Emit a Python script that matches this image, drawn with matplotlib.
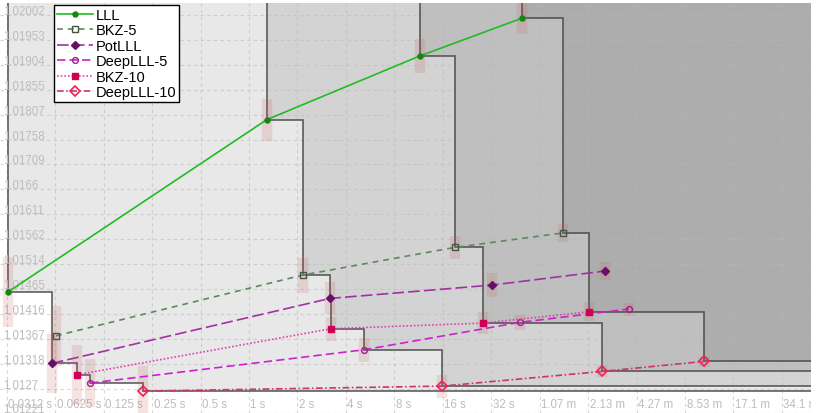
import matplotlib
matplotlib.use("Agg")
import matplotlib.pyplot as plt
from matplotlib.transforms import blended_transform_factory, offset_copy

plt.rcParams['font.family'] = ['Liberation Sans', 'DejaVu Sans']

# running time (s), root Hermite factor and its spread, one entry per lattice size
lll_time = [0.0320, 1.288, 11.50, 49.5]
lll_rhf = [1.014595, 1.017966, 1.019215, 1.019955]
lll_err = [0.000686, 0.000412, 0.000343, 0.000314]

bkz5_time = [0.0633, 2.156, 19.05, 88.9]
bkz5_rhf = [1.013730, 1.014921, 1.015464, 1.015745]
bkz5_err = [0.000588, 0.000343, 0.000226, 0.000176]

pot_time = [0.0595, 3.187, 32.5, 162.9]
pot_rhf = [1.013189, 1.014463, 1.014725, 1.015000]
pot_err = [0.000579, 0.000314, 0.000235, 0.000176]

deep5_time = [0.1029, 5.21, 48.3, 229.6]
deep5_rhf = [1.012803, 1.013457, 1.013994, 1.014255]
deep5_err = [0.000471, 0.000235, 0.000147, 0.000127]

bkz10_time = [0.0854, 3.23, 28.3, 129.6]
bkz10_rhf = [1.012966, 1.013869, 1.013979, 1.014201]
bkz10_err = [0.000588, 0.000235, 0.000216, 0.000186]

deep10_time = [0.2184, 15.89, 156.7, 671.5]
deep10_rhf = [1.012646, 1.012744, 1.013032, 1.013228]
deep10_err = [0.000490, 0.000226, 0.000118, 0.000108]

x_ticks = [2.0 ** n for n in range(-5, 12)]
x_labels = ['0.0312 s', '0.0625 s', '0.125 s', '0.25 s', '0.5 s', '1 s', '2 s',
            '4 s', '8 s', '16 s', '32 s', '1.07 m', '2.13 m', '4.27 m',
            '8.53 m', '17.1 m', '34.1 m']
y_ticks = [1 + k / 2048 for k in range(25, 42)]
y_labels = ['1.01221', '1.0127', '1.01318', '1.01367', '1.01416', '1.01465',
            '1.01514', '1.01562', '1.01611', '1.0166', '1.01709', '1.01758',
            '1.01807', '1.01855', '1.01904', '1.01953', '1.02002']

series = [
    ('LLL', lll_time, lll_rhf, lll_err,
     dict(color='#22bb22', ls='-', marker='o', ms=3.6, mfc='#118811', mec='#118811')),
    ('BKZ-5', bkz5_time, bkz5_rhf, bkz5_err,
     dict(color='#5b8a5b', ls=(0, (3.5, 3)), marker='s', ms=4.4, mfc='none',
          mec='#445544', mew=1.0)),
    ('PotLLL', pot_time, pot_rhf, pot_err,
     dict(color='#a330a3', ls=(0, (7, 2.5)), marker='D', ms=3.8, mfc='#661166',
          mec='#661166')),
    ('DeepLLL-5', deep5_time, deep5_rhf, deep5_err,
     dict(color='#cc22cc', ls=(0, (5, 2.5)), marker='o', ms=4.2, mfc='none',
          mec='#992288', mew=1.0)),
    ('BKZ-10', bkz10_time, bkz10_rhf, bkz10_err,
     dict(color='#dd44aa', ls=(0, (1, 1.2)), marker='s', ms=4.6, mfc='#cc0055',
          mec='#cc0055')),
    ('DeepLLL-10', deep10_time, deep10_rhf, deep10_err,
     dict(color='#cc3377', ls=(0, (4, 1.5, 1, 1.5)), marker='D', ms=4.6, mfc='none',
          mec='#ee2255', mew=1.2)),
]

fig = plt.figure(figsize=(8.2, 4.14), dpi=100)
ax = fig.add_axes([0, 0, 811 / 820, 410 / 414])
ax.set_xscale('log', base=2)
x_min, x_max = 2 ** -5.139, 2 ** 11.6
y_min, y_max = 1 + 25.02 / 2048, 1 + 41.48 / 2048
ax.set_xlim(x_min, x_max)
ax.set_ylim(y_min, y_max)
for s in ax.spines.values():
    s.set_visible(False)
ax.set_xticks([])
ax.set_yticks([])
ax.minorticks_off()

# dominated region of the n-th point of every method, stacked as grey layers
for i in range(4):
    pts = sorted((s[1][i], s[2][i]) for s in series)
    front = []
    for t, v in pts:
        if not front or v < front[-1][1]:
            front.append((t, v))
    xs, ys = [front[0][0]], [y_max]
    for j, (t, v) in enumerate(front):
        if j > 0:
            xs.append(t)
            ys.append(front[j - 1][1])
        xs.append(t)
        ys.append(v)
    xs.append(x_max)
    ys.append(front[-1][1])
    ax.fill(xs + [x_max], ys + [y_max], color='black', alpha=0.09, lw=0, zorder=1)
    ax.plot(xs, ys, color='#444444', lw=1.2, alpha=0.85, zorder=2,
            solid_joinstyle='miter')

# grid
for t in x_ticks:
    ax.axvline(t, color='#b8b8b8', alpha=0.55, lw=0.8, ls=(0, (3, 3)), zorder=1.5)
for v in y_ticks:
    ax.axhline(v, color='#b8b8b8', alpha=0.55, lw=0.8, ls=(0, (3, 3)), zorder=1.5)

# tick labels drawn inside the plot area
trans_y = blended_transform_factory(ax.transAxes, ax.transData)
for v, lab in zip(y_ticks, y_labels):
    ax.text(3 / 811, v, lab, transform=offset_copy(trans_y, fig=fig, y=1, units='dots'),
            ha='left', va='baseline', fontsize=8.3, color='#bdbdbd',
            clip_on=False, zorder=2.5)
trans_x = offset_copy(blended_transform_factory(ax.transData, ax.transAxes),
                      fig=fig, x=1.5, units='dots')
for t, lab in zip(x_ticks, x_labels):
    ax.text(t, 6 / 410, lab, transform=trans_x, ha='left', va='baseline',
            fontsize=8.3, color='#bdbdbd', clip_on=True, zorder=2.5)

handles = []
for name, t, v, e, style in series:
    ax.errorbar(t, v, yerr=e, fmt='none', ecolor=(0.78, 0.35, 0.35), alpha=0.17,
                elinewidth=7.5, capsize=0, zorder=3)
    h, = ax.plot(t, v, lw=1.2, label=name, zorder=4, **style)
    handles.append(h)

leg = ax.legend(handles=handles, loc='upper left', bbox_to_anchor=(54 / 811, 1 - 2 / 410),
                borderaxespad=0, fontsize=10.5, handlelength=2.45, handletextpad=0.2,
                labelspacing=0.1, borderpad=0.2, fancybox=False, framealpha=1,
                edgecolor='black')
leg.get_frame().set_linewidth(1.0)
leg.set_zorder(10)

fig.savefig('out.png', dpi=100)
